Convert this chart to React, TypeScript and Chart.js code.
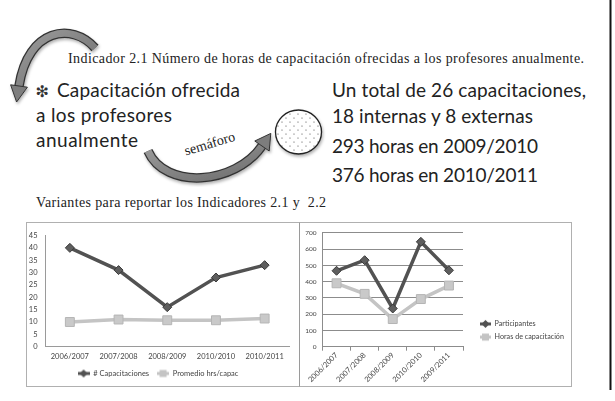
import React, { useEffect, useRef } from "react";
import { Chart, registerables } from "chart.js";
Chart.register(...registerables);

// ---------- data ----------
const leftCategories = ["2006/2007", "2007/2008", "2008/2009", "2010/2010", "2010/2011"];
const capacitaciones = [40, 31, 16, 28, 33];
const promedioHrs = [10, 11, 10.7, 10.7, 11.4];
const leftYMax = 45;
const leftYStep = 5;

const rightCategories = ["2006/2007", "2007/2008", "2008/2009", "2010/2010", "2009/2011"];
const participantes = [467, 532, 235, 645, 470];
const horasCapacitacion = [390, 325, 170, 293, 376];
const rightYMax = 700;
const rightYStep = 100;

const leftSeriesNames = ["# Capacitaciones", "Promedio hrs/capac"];
const rightSeriesNames = ["Participantes", "Horas de capacitación"];

// ---------- styles ----------
const DARK = "#525252";
const LIGHT = "#c4c4c4";
const FONT = "Lato";
const TICK_COLOR = "#444";
const AXIS_COLOR = "#9a9a9a";

function legendGlyph(total: number, glyphStart: number, color: string, shape: "diamond" | "square") {
  const c = document.createElement("canvas");
  c.width = total;
  c.height = 10;
  const ctx = c.getContext("2d")!;
  ctx.strokeStyle = color;
  ctx.lineWidth = 3;
  ctx.beginPath();
  ctx.moveTo(glyphStart, 5);
  ctx.lineTo(total, 5);
  ctx.stroke();
  const cx = (glyphStart + total) / 2;
  ctx.fillStyle = color;
  if (shape === "diamond") {
    ctx.beginPath();
    ctx.moveTo(cx, 1);
    ctx.lineTo(cx + 4, 5);
    ctx.lineTo(cx, 9);
    ctx.lineTo(cx - 4, 5);
    ctx.closePath();
    ctx.fill();
  } else {
    ctx.fillRect(cx - 3.5, 1.5, 7, 7);
  }
  return c;
}

function seriesStyle(dark: boolean) {
  return dark
    ? {
        borderColor: DARK,
        backgroundColor: DARK,
        borderWidth: 3.5,
        pointStyle: "rectRot" as const,
        pointRadius: 4.5,
        pointBackgroundColor: "#5e5e5e",
        pointBorderColor: "#3a3a3a",
        pointBorderWidth: 1,
        tension: 0,
      }
    : {
        borderColor: LIGHT,
        backgroundColor: LIGHT,
        borderWidth: 3.5,
        pointStyle: "rect" as const,
        pointRadius: 6.3,
        pointBackgroundColor: "#c9c9c9",
        pointBorderColor: "#b5b5b5",
        pointBorderWidth: 1,
        tension: 0,
      };
}

function LeftChart() {
  const ref = useRef<HTMLCanvasElement>(null);
  useEffect(() => {
    const glyphs = [legendGlyph(12, 0, DARK, "diamond"), legendGlyph(12, 0, LIGHT, "square")];
    const chart = new Chart(ref.current!, {
      type: "line",
      data: {
        labels: leftCategories,
        datasets: [
          { label: leftSeriesNames[0], data: capacitaciones, ...seriesStyle(true) },
          { label: leftSeriesNames[1], data: promedioHrs, ...seriesStyle(false) },
        ],
      },
      options: {
        responsive: false,
        animation: false,
        layout: { padding: { top: 11, right: 9, left: 0, bottom: 0 } },
        scales: {
          x: {
            offset: true,
            grid: { display: false, drawTicks: false },
            border: { display: true, color: AXIS_COLOR, width: 1 },
            ticks: { font: { family: FONT, size: 7.5 }, color: TICK_COLOR, padding: 5, maxRotation: 0, autoSkip: false },
            afterFit: (s: any) => {
              s.height = 15;
            },
          },
          y: {
            min: 0,
            max: leftYMax,
            ticks: { stepSize: leftYStep, font: { family: FONT, size: 7.5 }, color: TICK_COLOR, padding: 8 },
            grid: { display: false, drawTicks: false },
            border: { display: true, color: AXIS_COLOR, width: 1 },
            afterFit: (s: any) => {
              s.width = 18.5;
            },
          },
        },
        plugins: {
          tooltip: { enabled: false },
          legend: {
            position: "bottom",
            maxHeight: 24.3,
            labels: {
              usePointStyle: true,
              pointStyleWidth: 12,
              padding: 8,
              font: { family: FONT, size: 7.5 },
              color: TICK_COLOR,
              generateLabels: (ch: any) =>
                Chart.defaults.plugins.legend.labels.generateLabels(ch).map((l: any, i: number) => ({
                  ...l,
                  pointStyle: glyphs[i],
                  rotation: 0,
                })),
            },
          },
        },
      },
    } as any);
    return () => chart.destroy();
  }, []);
  return (
    <canvas
      ref={ref}
      width={271}
      height={163}
      style={{ position: "absolute", left: 27, top: 223, width: 271, height: 163 }}
    />
  );
}

function RightChart() {
  const ref = useRef<HTMLCanvasElement>(null);
  useEffect(() => {
    const glyphs = [legendGlyph(22, 11, DARK, "diamond"), legendGlyph(22, 11, LIGHT, "square")];
    const chart = new Chart(ref.current!, {
      type: "line",
      data: {
        labels: rightCategories,
        datasets: [
          { label: rightSeriesNames[0], data: participantes, ...seriesStyle(true) },
          { label: rightSeriesNames[1], data: horasCapacitacion, ...seriesStyle(false) },
        ],
      },
      options: {
        responsive: false,
        animation: false,
        layout: { padding: { top: 9.7, right: 0, left: 0, bottom: 0 } },
        scales: {
          x: {
            offset: true,
            grid: { display: true, drawOnChartArea: false, offset: true, tickLength: 4, color: "#8c8c8c" },
            border: { display: true, color: "#8c8c8c", width: 1 },
            ticks: {
              font: { family: FONT, size: 7.5 },
              color: TICK_COLOR,
              padding: 0,
              minRotation: 45,
              maxRotation: 45,
              autoSkip: false,
            },
            afterFit: (s: any) => {
              s.height = 39.3;
            },
          },
          y: {
            min: 0,
            max: rightYMax,
            ticks: { stepSize: rightYStep, font: { family: FONT, size: 6.5 }, color: TICK_COLOR, padding: 6 },
            grid: { display: true, drawTicks: false, color: "#8c8c8c", lineWidth: 1 },
            border: { display: true, color: "#8c8c8c", width: 1 },
            afterFit: (s: any) => {
              s.width = 22.5;
            },
          },
        },
        plugins: {
          tooltip: { enabled: false },
          legend: {
            position: "right",
            align: "end",
            fullSize: false,
            maxWidth: 108,
            labels: {
              usePointStyle: true,
              pointStyleWidth: 22,
              padding: 6,
              font: { family: FONT, size: 7.2 },
              color: TICK_COLOR,
              generateLabels: (ch: any) =>
                Chart.defaults.plugins.legend.labels.generateLabels(ch).map((l: any, i: number) => ({
                  ...l,
                  pointStyle: glyphs[i],
                  rotation: 0,
                })),
            },
          },
        },
      },
    } as any);
    return () => chart.destroy();
  }, []);
  return (
    <canvas
      ref={ref}
      width={271}
      height={163}
      style={{ position: "absolute", left: 300, top: 223, width: 271, height: 163 }}
    />
  );
}

function Decorations() {
  const serif = "'Liberation Serif', 'Times New Roman', serif";
  const sans = "Lato, 'Open Sans', sans-serif";
  const big = 19;
  const ink = "#222";
  return (
    <svg
      width={615}
      height={401}
      style={{ position: "absolute", left: 0, top: 0 }}
      xmlns="http://www.w3.org/2000/svg"
    >
      <defs>
        <pattern id="dots" width="8" height="8" patternUnits="userSpaceOnUse">
          <rect width="8" height="8" fill="#fff" />
          <circle cx="2" cy="2" r="0.6" fill="#444" />
          <circle cx="6" cy="6" r="0.6" fill="#444" />
        </pattern>
        <linearGradient id="arrowFill" x1="0" y1="0" x2="1" y2="1">
          <stop offset="0" stopColor="#9a9a9a" />
          <stop offset="1" stopColor="#6e6e6e" />
        </linearGradient>
        <filter id="shadow" x="-20%" y="-20%" width="140%" height="140%">
          <feDropShadow dx="1" dy="2" stdDeviation="1.5" floodColor="#000" floodOpacity="0.3" />
        </filter>
      </defs>

      {/* page right border */}
      <line x1={610.5} y1={0} x2={610.5} y2={390} stroke="#111" strokeWidth={2} />

      {/* top-left curved arrow */}
      <g filter="url(#shadow)">
        <path d="M 95 48 C 72 22, 28 28, 19 86" fill="none" stroke="#333" strokeWidth={9.5} />
        <path d="M 95 48 C 72 22, 28 28, 19 86" fill="none" stroke="url(#arrowFill)" strokeWidth={7} />
        <polygon points="27.4,87.2 16.6,102 10.6,84.8" fill="#7d7d7d" stroke="#333" strokeWidth={1} />
      </g>

      {/* bottom curved arrow */}
      <g filter="url(#shadow)">
        <path d="M 148 151 C 165 190, 235 185, 262 146" fill="none" stroke="#333" strokeWidth={9.5} />
        <path d="M 148 151 C 165 190, 235 185, 262 146" fill="none" stroke="url(#arrowFill)" strokeWidth={7} />
        <polygon points="269.2,151 270.8,133.4 254.8,141" fill="#7d7d7d" stroke="#333" strokeWidth={1} />
      </g>

      {/* dotted circle */}
      <ellipse cx={298.5} cy={132} rx={23} ry={22} fill="url(#dots)" stroke="#222" strokeWidth={1.3} filter="url(#shadow)" />

      {/* texts */}
      <text x={68} y={62.5} fontFamily={serif} fontSize={14} fill={ink} textLength={516} lengthAdjust="spacing">
        Indicador 2.1 Número de horas de capacitación ofrecidas a los profesores anualmente.
      </text>

      <text x={35.5} y={97} fontFamily="'DejaVu Sans', sans-serif" fontSize={16} fill="#333">
        ❇
      </text>
      <text x={57} y={97} fontFamily={sans} fontSize={big} fill={ink} textLength={183} lengthAdjust="spacing">
        Capacitación ofrecida
      </text>
      <text x={36} y={122} fontFamily={sans} fontSize={big} fill={ink} textLength={136} lengthAdjust="spacing">
        a los profesores
      </text>
      <text x={36} y={147} fontFamily={sans} fontSize={big} fill={ink} textLength={102} lengthAdjust="spacing">
        anualmente
      </text>

      <text x={211} y={148} fontFamily={serif} fontSize={14} fill={ink} textAnchor="middle" transform="rotate(-17 211 148)">
        semáforo
      </text>

      <text x={332} y={97} fontFamily={sans} fontSize={big} fill={ink} textLength={254} lengthAdjust="spacing">
        Un total de 26 capacitaciones,
      </text>
      <text x={332} y={123} fontFamily={sans} fontSize={big} fill={ink} textLength={201} lengthAdjust="spacing">
        18 internas y 8 externas
      </text>
      <text x={332} y={152.7} fontFamily={sans} fontSize={big} fill={ink} textLength={206} lengthAdjust="spacing">
        293 horas en 2009/2010
      </text>
      <text x={332} y={181.5} fontFamily={sans} fontSize={big} fill={ink} textLength={206} lengthAdjust="spacing">
        376 horas en 2010/2011
      </text>

      <text x={36} y={207} fontFamily={serif} fontSize={14} fill={ink} style={{ whiteSpace: "pre" }} textLength={290} lengthAdjust="spacing">
        {"Variantes para reportar los Indicadores 2.1 y  2.2"}
      </text>

      {/* chart frame */}
      <rect x={26.5} y={222.5} width={545} height={164} fill="none" stroke="#b0b0b0" strokeWidth={1} />
      <line x1={299.5} y1={222.5} x2={299.5} y2={386.5} stroke="#9a9a9a" strokeWidth={1} />
    </svg>
  );
}

export default function App() {
  return (
    <div style={{ position: "absolute", left: 0, top: 0, width: 615, height: 401, background: "#fff", overflow: "hidden" }}>
      <Decorations />
      <LeftChart />
      <RightChart />
    </div>
  );
}
